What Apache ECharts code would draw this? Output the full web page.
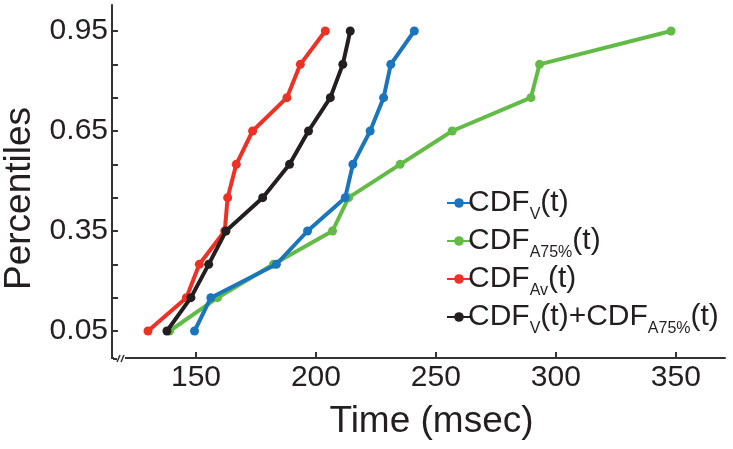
<!DOCTYPE html>
<html><head><meta charset="utf-8">
<script src="https://cdn.jsdelivr.net/npm/echarts@6/dist/echarts.min.js"></script>
<style>html,body{margin:0;padding:0;background:#fff}#c{width:733px;height:449px}</style>
</head><body><div id="c"></div>
<script>
const percentiles = [0.05, 0.15, 0.25, 0.35, 0.45, 0.55, 0.65, 0.75, 0.85, 0.95];
const cdfV    = [149.4, 156.2, 183.5, 196.5, 212.2, 215.4, 222.6, 228.2, 231.2, 241.0];
const cdfA75  = [139.0, 159.0, 182.3, 206.9, 213.6, 235.1, 256.8, 289.6, 293.2, 348.0];
const cdfAv   = [130.0, 146.0, 151.4, 162.0, 163.2, 166.8, 173.6, 187.9, 193.5, 203.9];
const cdfSum  = [137.9, 147.9, 155.3, 162.5, 177.8, 189.0, 196.9, 206.0, 211.2, 214.3];
const xTicks = [150, 200, 250, 300, 350];
const yTicks = [0.05, 0.15, 0.25, 0.35, 0.45, 0.55, 0.65, 0.75, 0.85, 0.95];
const yLabels = [0.05, 0.35, 0.65, 0.95];
const names = ['CDF_V(t)', 'CDF_A75%(t)', 'CDF_Av(t)', 'CDF_V(t)+CDF_A75%(t)'];
const colors = ['#1b75bc', '#62bb46', '#ee3124', '#231f20'];

const FONT = '"Liberation Sans", Arial, Helvetica, sans-serif';
function pts(xs){ return xs.map((x,i)=>[x, percentiles[i]]); }
function mkSeries(name, data, color, z){
  return {name, type:'line', data: pts(data), z, symbol:'circle', symbolSize:9,
    lineStyle:{color, width:4}, itemStyle:{color}, emphasis:{disabled:true}, animation:false};
}
const chart = echarts.init(document.getElementById('c'), null, {renderer:'canvas'});
function legendFmt(n){
  const parts = n.split(/_([A-Za-z0-9%]+)/);
  let out = '';
  parts.forEach((p,i)=>{ if(!p) return; out += (i%2===1) ? '{s|'+p+'}' : '{m|'+p+'}'; });
  return out;
}
chart.setOption({
  backgroundColor:'#fff',
  animation:false,
  grid:{left:112, right:8, top:5, bottom:91, containLabel:false, outerBoundsMode:'none'},
  xAxis:{type:'value', min:115, max:370.5,
    name:'Time (msec)', nameLocation:'middle', nameGap:45,
    nameTextStyle:{fontFamily:FONT, fontSize:37, color:'#231f20', padding:[0,0,0,26]},
    axisLine:{show:true, onZero:false, lineStyle:{color:'#333', width:2}},
    axisTick:{show:true, inside:true, length:6, customValues:xTicks, lineStyle:{color:'#333', width:2}},
    axisLabel:{customValues:xTicks, fontFamily:FONT, fontSize:30, color:'#231f20', margin:5},
    splitLine:{show:false}},
  yAxis:{type:'value', min:-0.031, max:1.028,
    name:'Percentiles', nameLocation:'middle', nameGap:73, nameRotate:90,
    nameTextStyle:{fontFamily:FONT, fontSize:37, color:'#231f20', padding:[0,34,0,0]},
    axisLine:{show:true, onZero:false, lineStyle:{color:'#333', width:2}},
    axisTick:{show:true, inside:true, length:6, customValues:yTicks, lineStyle:{color:'#333', width:2}},
    axisLabel:{customValues:yLabels, fontFamily:FONT, fontSize:30, color:'#231f20', margin:4,
      formatter:v=>v.toFixed(2)},
    splitLine:{show:false}},
  legend:{orient:'vertical', left:441, top:178, itemWidth:24, itemHeight:12, itemGap:-2,
    data:names, formatter:legendFmt, selectedMode:false,
    textStyle:{fontFamily:FONT, color:'#231f20', padding:[0,0,0,-8],
      rich:{m:{fontFamily:FONT, fontSize:30, lineHeight:32, color:'#231f20', verticalAlign:'middle'},
            s:{fontFamily:FONT, fontSize:16, lineHeight:14, padding:[24,0,0,0], color:'#231f20', verticalAlign:'middle'}}}},
  graphic:[
    {type:'rect', shape:{x:114, y:355, width:11, height:7}, style:{fill:'#fff'}, z:100},
    {type:'line', shape:{x1:113, y1:359, x2:117, y2:359}, style:{stroke:'#333', lineWidth:2}, z:101},
    {type:'line', shape:{x1:117, y1:362, x2:120, y2:355}, style:{stroke:'#333', lineWidth:1.5}, z:101},
    {type:'line', shape:{x1:121, y1:362, x2:124, y2:355}, style:{stroke:'#333', lineWidth:1.5}, z:101}
  ],
  series:[
    mkSeries(names[1], cdfA75, colors[1], 2),
    mkSeries(names[2], cdfAv, colors[2], 3),
    mkSeries(names[0], cdfV, colors[0], 4),
    mkSeries(names[3], cdfSum, colors[3], 5)
  ]
});
</script></body></html>
